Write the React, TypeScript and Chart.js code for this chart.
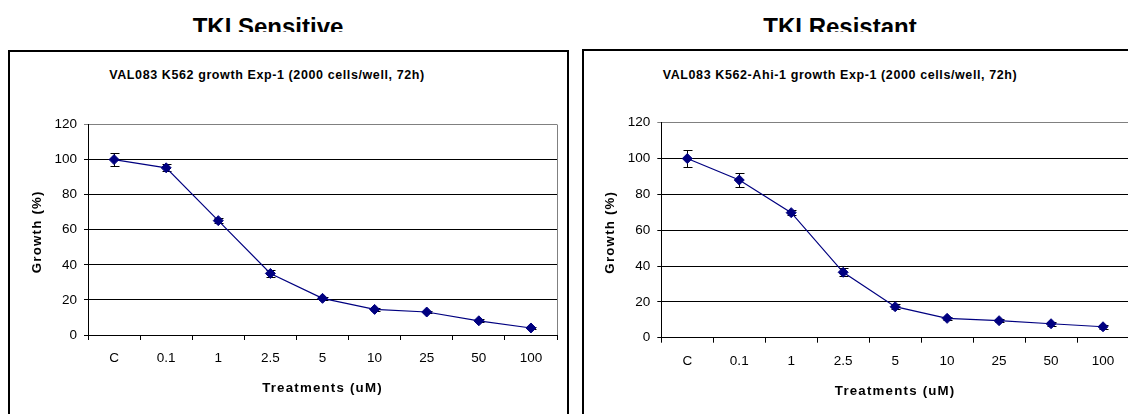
import React, { useEffect, useRef } from "react";
import { Chart, registerables } from "chart.js";

Chart.register(...registerables);

const categories = ["C", "0.1", "1", "2.5", "5", "10", "25", "50", "100"];
const sensitiveGrowth = [100, 95.3, 65.2, 35.1, 20.9, 14.6, 13.1, 8.1, 4.0];
const sensitiveError = [3.7, 2.0, 1.5, 2.0, 1.0, 0.8, 0.8, 0.8, 0.6];
const resistantGrowth = [100, 88.0, 69.8, 36.5, 17.3, 10.8, 9.5, 7.8, 6.1];
const resistantError = [4.8, 3.7, 1.5, 2.2, 1.5, 1.0, 1.0, 1.0, 1.0];

const panelTitles = ["TKI Sensitive", "TKI Resistant"];
const chartTitles = [
  "VAL083 K562 growth Exp-1 (2000 cells/well, 72h)",
  "VAL083 K562-Ahi-1 growth Exp-1 (2000 cells/well, 72h)",
];
const yAxisTitle = "Growth (%)";
const xAxisTitle = "Treatments (uM)";
const yMin = 0;
const yMax = 120;
const yStep = 20;

const FONT = "'Liberation Sans', Arial, sans-serif";
const NAVY = "#000080";

type PanelProps = {
  left: number;
  top: number;
  width: number;
  height: number;
  padTop: number;
  padRight: number;
  yWidth: number;
  xHeight: number;
  values: number[];
  errors: number[];
};

function Panel(props: PanelProps) {
  const ref = useRef<HTMLCanvasElement>(null);
  useEffect(() => {
    const { values, errors } = props;
    const decor = {
      id: "decor",
      beforeDatasetsDraw(chart: any) {
        const ctx = chart.ctx;
        const meta = chart.getDatasetMeta(0);
        const ys = chart.scales.y;
        ctx.save();
        ctx.strokeStyle = "#000";
        ctx.lineWidth = 1;
        meta.data.forEach((pt: any, i: number) => {
          const x = Math.round(pt.x) + 0.5;
          const yt = Math.round(ys.getPixelForValue(values[i] + errors[i])) + 0.5;
          const yb = Math.round(ys.getPixelForValue(values[i] - errors[i])) + 0.5;
          ctx.beginPath();
          ctx.moveTo(x, yt);
          ctx.lineTo(x, yb);
          ctx.moveTo(x - 4, yt);
          ctx.lineTo(x + 5, yt);
          ctx.moveTo(x - 4, yb);
          ctx.lineTo(x + 5, yb);
          ctx.stroke();
        });
        ctx.restore();
      },
      afterDraw(chart: any) {
        const ctx = chart.ctx;
        const a = chart.chartArea;
        ctx.save();
        ctx.strokeStyle = "#808080";
        ctx.lineWidth = 1;
        const rx = Math.round(a.right) + 0.5;
        ctx.beginPath();
        ctx.moveTo(rx, a.top);
        ctx.lineTo(rx, a.bottom);
        ctx.stroke();
        ctx.fillStyle = "#000";
        ctx.font = `bold 13.3px ${FONT}`;
        (ctx as any).letterSpacing = "1.2px";
        ctx.textAlign = "center";
        ctx.textBaseline = "middle";
        ctx.fillText(xAxisTitle, (a.left + a.right) / 2, a.bottom + 53.5);
        ctx.translate(a.left - 51, (a.top + a.bottom) / 2 + 2);
        ctx.rotate(-Math.PI / 2);
        ctx.fillText(yAxisTitle, 0, 0);
        ctx.restore();
      },
    };
    const chart = new Chart(ref.current as HTMLCanvasElement, {
      type: "line",
      data: {
        labels: categories,
        datasets: [
          {
            data: values,
            borderColor: NAVY,
            backgroundColor: NAVY,
            borderWidth: 1.2,
            pointStyle: "rectRot",
            pointRadius: 5,
            pointBorderWidth: 1,
            pointBackgroundColor: NAVY,
            pointBorderColor: NAVY,
            tension: 0,
            fill: false,
          },
        ],
      },
      options: {
        responsive: false,
        animation: false,
        devicePixelRatio: 1,
        layout: { padding: { top: props.padTop, right: props.padRight, left: 0, bottom: 0 } },
        plugins: {
          legend: { display: false },
          title: { display: false },
          tooltip: { enabled: false },
        },
        scales: {
          x: {
            type: "category",
            offset: true,
            grid: {
              offset: true,
              drawOnChartArea: false,
              drawTicks: true,
              tickLength: 5,
              color: "#000",
              lineWidth: 1,
            },
            border: { display: true, color: "#000", width: 1 },
            ticks: {
              color: "#000",
              font: { family: FONT, size: 13.5 },
              padding: 10,
              maxRotation: 0,
              autoSkip: false,
            },
            afterFit: (s: any) => {
              s.height = props.xHeight;
            },
          },
          y: {
            min: yMin,
            max: yMax,
            ticks: {
              stepSize: yStep,
              color: "#000",
              font: { family: FONT, size: 13.5 },
              padding: 7,
            },
            grid: {
              color: (c: any) => (c.tick && c.tick.value === yMax ? "#808080" : "#000"),
              tickLength: 4,
              lineWidth: 1,
            },
            border: { display: true, color: "#000", width: 1 },
            afterFit: (s: any) => {
              s.width = props.yWidth;
            },
          },
        },
      } as any,
      plugins: [decor as any],
    });
    return () => chart.destroy();
  }, []);
  return (
    <canvas
      ref={ref}
      width={props.width}
      height={props.height}
      style={{ position: "absolute", left: props.left, top: props.top, width: props.width, height: props.height }}
    />
  );
}

function BigTitle({ text, center }: { text: string; center: number }) {
  return (
    <div style={{ position: "absolute", left: center - 150, top: 0, width: 300, height: 32, overflow: "hidden" }}>
      <div
        style={{
          position: "absolute",
          left: 0,
          top: 15,
          width: 300,
          textAlign: "center",
          font: `bold 24px ${FONT}`,
          lineHeight: "24px",
          color: "#000",
          whiteSpace: "nowrap",
        }}
      >
        {text}
      </div>
    </div>
  );
}

function SubTitle({ text, center }: { text: string; center: number }) {
  return (
    <div
      style={{
        position: "absolute",
        left: center - 250,
        top: 68,
        width: 500,
        textAlign: "center",
        font: `bold 12.5px ${FONT}`,
        lineHeight: "14px",
        letterSpacing: "0.6px",
        color: "#000",
        whiteSpace: "nowrap",
      }}
    >
      {text}
    </div>
  );
}

export default function App() {
  return (
    <div
      style={{
        position: "fixed",
        left: 0,
        top: 0,
        width: 1128,
        height: 414,
        overflow: "hidden",
        background: "#fff",
      }}
    >
      <BigTitle text={panelTitles[0]} center={268} />
      <BigTitle text={panelTitles[1]} center={840} />
      <div
        style={{
          position: "absolute",
          left: 8,
          top: 50,
          width: 561,
          height: 420,
          border: "2px solid #000",
          boxSizing: "border-box",
        }}
      />
      <div
        style={{
          position: "absolute",
          left: 582,
          top: 49,
          width: 600,
          height: 420,
          border: "2px solid #000",
          boxSizing: "border-box",
        }}
      />
      <SubTitle text={chartTitles[0]} center={267} />
      <SubTitle text={chartTitles[1]} center={840} />
      <Panel
        left={11}
        top={52}
        width={556}
        height={362}
        padTop={72.5}
        padRight={10}
        yWidth={77}
        xHeight={79}
        values={sensitiveGrowth}
        errors={sensitiveError}
      />
      <Panel
        left={585}
        top={52}
        width={560}
        height={362}
        padTop={70.7}
        padRight={16}
        yWidth={76.3}
        xHeight={76.3}
        values={resistantGrowth}
        errors={resistantError}
      />
    </div>
  );
}
